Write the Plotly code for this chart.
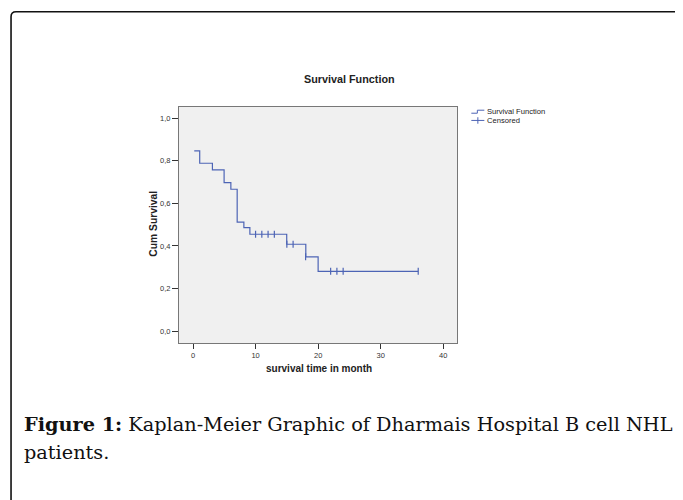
import plotly.graph_objects as go

# ---- data ----
event_times = [0.2, 1.07, 3.1, 4.97, 6.05, 7.06, 8.13, 9.09, 14.98, 18.03, 20.0, 36.0]
event_surv = [0.846, 0.788, 0.757, 0.697, 0.666, 0.512, 0.486, 0.455, 0.408, 0.349, 0.281, 0.281]
censor_times = [10.0, 11.0, 12.0, 13.0, 15.0, 16.0, 18.0, 22.0, 23.0, 24.0, 36.0]
censor_surv = [0.455, 0.455, 0.455, 0.455, 0.408, 0.408, 0.349, 0.281, 0.281, 0.281, 0.281]
x_tick_vals = [0, 10, 20, 30, 40]
x_tick_text = ["0", "10", "20", "30", "40"]
y_tick_vals = [0.0, 0.2, 0.4, 0.6, 0.8, 1.0]
y_tick_text = ["0,0", "0,2", "0,4", "0,6", "0,8", "1,0"]

OFF = 8  # page body margin
W0, H0 = 683, 500
W, H = W0 - OFF, H0 - OFF
L, R, T, B = 179.3, 456.7, 107.3, 342.7  # plot frame in reference pixels
PW, PH = R - L, B - T


def px(x):
    return (x - L) / PW


def py(y):
    return (B - y) / PH


LINE = "#4d64b5"
SANS = "Liberation Sans, Arial, sans-serif"
SERIF = "DejaVu Serif, serif"

fig = go.Figure()
fig.add_trace(go.Scatter(
    x=event_times, y=event_surv, mode="lines", line_shape="hv",
    line=dict(color=LINE, width=1.2), name="Survival Function", showlegend=False,
    hoverinfo="skip"))
fig.add_trace(go.Scatter(
    x=censor_times, y=censor_surv, mode="markers", name="Censored", showlegend=False,
    marker=dict(symbol="line-ns", size=5, line=dict(color=LINE, width=1.2)),
    hoverinfo="skip"))

shapes = []
# outer rounded frame
r = 5
x0, y0, x1, yb = 11.7, 12.3, 700, 520
path = (f"M {px(x0)},{py(yb)} L {px(x0)},{py(y0 + r)} "
        f"Q {px(x0)},{py(y0)} {px(x0 + r)},{py(y0)} L {px(x1)},{py(y0)}")
shapes.append(dict(type="path", xref="paper", yref="paper", path=path,
                   line=dict(color="#111111", width=1.6)))
# legend glyphs
lx0, lx1 = 471, 484
stp = (f"M {px(lx0)},{py(113.5)} L {px(lx0 + 6)},{py(113.5)} L {px(lx0 + 6)},{py(110.5)} "
       f"L {px(lx1)},{py(110.5)}")
shapes.append(dict(type="path", xref="paper", yref="paper", path=stp,
                   line=dict(color=LINE, width=1)))
shapes.append(dict(type="line", xref="paper", yref="paper", x0=px(lx0), x1=px(lx1),
                   y0=py(120.7), y1=py(120.7), line=dict(color=LINE, width=1)))
shapes.append(dict(type="line", xref="paper", yref="paper", x0=px(477.5), x1=px(477.5),
                   y0=py(117.5), y1=py(124), line=dict(color=LINE, width=1)))

annotations = [
    dict(text="Survival Function", x=px(484.5), y=py(112), xanchor="left", yanchor="middle",
         font=dict(family=SANS, size=7.6, color="#222")),
    dict(text="Censored", x=px(484.5), y=py(120.7), xanchor="left", yanchor="middle",
         font=dict(family=SANS, size=7.6, color="#222")),
    dict(text="<b>Survival Function</b>", x=px(349.5), y=py(79), xanchor="center",
         yanchor="middle", font=dict(family=SANS, size=10.8, color="#222")),
    dict(text="<b>Cum Survival</b>", x=px(154), y=py(224), xanchor="center", yanchor="middle",
         textangle=-90, font=dict(family=SANS, size=10.3, color="#222")),
    dict(text="<b>survival time in month</b>", x=px(318.5), y=py(368), xanchor="center",
         yanchor="middle", font=dict(family=SANS, size=10, color="#222")),
    dict(text="<b>Figure 1:</b> Kaplan-Meier Graphic of Dharmais Hospital B cell NHL",
         x=px(23), y=py(424), xanchor="left", yanchor="middle",
         font=dict(family=SERIF, size=19.3, color="#111")),
    dict(text="patients.", x=px(23), y=py(452), xanchor="left", yanchor="middle",
         font=dict(family=SERIF, size=19.3, color="#111")),
]
for a in annotations:
    a.update(xref="paper", yref="paper", showarrow=False)

fig.update_layout(
    width=W, height=H,
    margin=dict(l=L - OFF, r=W0 - R, t=T - OFF, b=H0 - B, pad=0),
    paper_bgcolor="white", plot_bgcolor="#f0f0f0",
    shapes=shapes, annotations=annotations, showlegend=False,
    xaxis=dict(range=[-2.24, 42.2], tickvals=x_tick_vals, ticktext=x_tick_text,
               showgrid=False, zeroline=False, showline=True, mirror=True,
               linecolor="#777777", linewidth=1, ticks="outside", ticklen=5,
               tickcolor="#333", tickfont=dict(family=SANS, size=7.5, color="#333")),
    yaxis=dict(range=[-0.055, 1.0517], tickvals=y_tick_vals, ticktext=y_tick_text,
               showgrid=False, zeroline=False, showline=True, mirror=True,
               linecolor="#777777", linewidth=1, ticks="outside", ticklen=6,
               tickcolor="#333", tickfont=dict(family=SANS, size=7.5, color="#333")),
)

fig.write_html("out.html")
